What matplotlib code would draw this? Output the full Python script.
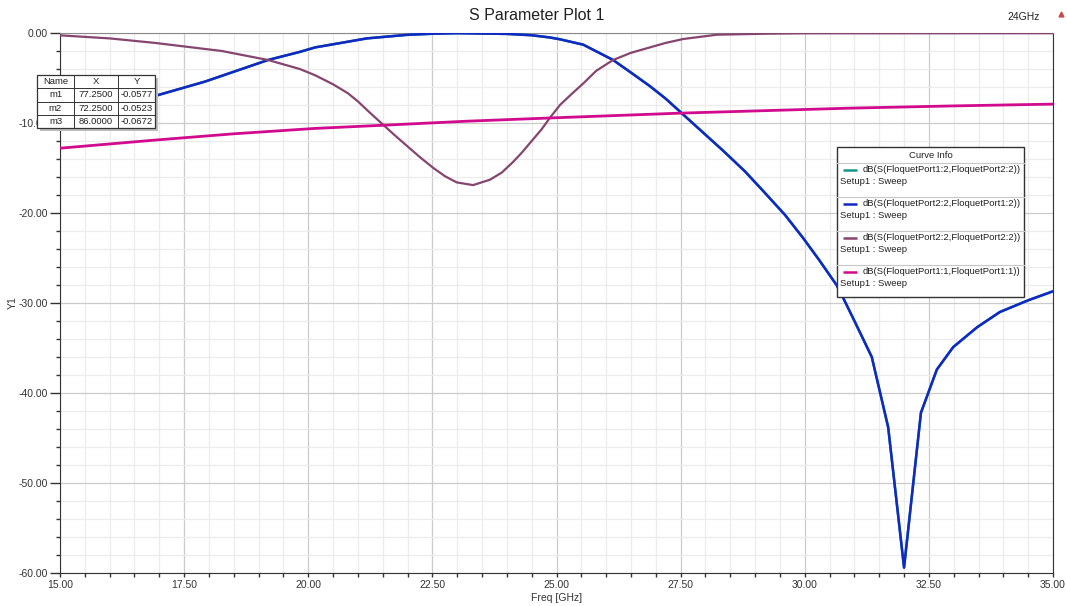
import matplotlib
matplotlib.use("Agg")
import matplotlib.pyplot as plt
from matplotlib.patches import Rectangle
from matplotlib.ticker import MultipleLocator, FormatStrFormatter

plt.rcParams["font.family"] = ["Liberation Sans", "DejaVu Sans"]

# ---------------------------------------------------------------------------
# Sweep results (dB vs GHz)
# ---------------------------------------------------------------------------

# transmission, S(2:2,1:2) -- S(1:2,2:2) sits exactly underneath it
freq_s21 = [15.0, 16.0, 16.91, 17.92, 19.19, 19.83, 20.14, 21.18, 22.0, 22.51,
            23.0, 24.0, 24.5, 24.87, 25.07, 25.54, 26.14, 26.5, 26.88, 27.2,
            27.52, 27.9, 28.36, 28.8, 29.17, 29.6, 29.97, 30.3, 30.64, 30.78,
            31.01, 31.35, 31.68, 32.0, 32.34, 32.66, 32.99, 33.47, 33.93, 34.5,
            35.0]
s21_db = [-10.4, -8.6, -7.0, -5.4, -3.0, -2.1, -1.6, -0.6, -0.2, -0.08,
          -0.02, -0.1, -0.25, -0.5, -0.7, -1.3, -3.0, -4.4, -5.9, -7.3,
          -8.9, -10.8, -13.1, -15.4, -17.6, -20.2, -22.8, -25.3, -28.0, -29.5,
          -32.1, -36.0, -43.8, -59.4, -42.2, -37.4, -34.9, -32.7, -31.0, -29.7,
          -28.7]

# reflection at port 2, S(2:2,2:2)
freq_s22 = [15.0, 16.0, 16.91, 18.26, 19.19, 19.83, 20.14, 20.5, 20.8, 21.0,
            21.25, 21.51, 21.75, 22.0, 22.25, 22.52, 22.75, 22.99, 23.32, 23.66,
            23.9, 24.13, 24.3, 24.5, 24.7, 24.87, 25.07, 25.3, 25.54, 25.8,
            26.14, 26.5, 26.88, 27.2, 27.55, 28.23, 29.23, 30.0, 35.0]
s22_db = [-0.26, -0.6, -1.1, -2.0, -3.0, -4.0, -4.7, -5.7, -6.7, -7.6,
          -8.9, -10.2, -11.4, -12.6, -13.8, -15.0, -15.9, -16.6, -16.9, -16.3,
          -15.5, -14.3, -13.3, -12.0, -10.7, -9.4, -8.0, -6.8, -5.6, -4.2,
          -3.0, -2.2, -1.6, -1.1, -0.67, -0.19, -0.08, -0.03, -0.02]

# reflection at port 1, S(1:1,1:1)
freq_s11 = [15.0, 16.91, 18.5, 20.14, 21.51, 23.19, 25.07, 27.52, 30.91, 33.0, 35.0]
s11_db = [-12.8, -11.9, -11.2, -10.6, -10.25, -9.8, -9.4, -8.9, -8.35, -8.1, -7.9]

# marker table
marker_names = ["m1", "m2", "m3"]
marker_x = [77.25, 72.25, 86.0]
marker_y = [-0.0577, -0.0523, -0.0672]

curve_labels = ["dB(S(FloquetPort1:2,FloquetPort2:2))",
                "dB(S(FloquetPort2:2,FloquetPort1:2))",
                "dB(S(FloquetPort2:2,FloquetPort2:2))",
                "dB(S(FloquetPort1:1,FloquetPort1:1))"]
curve_colors = ["#14968a", "#1228c4", "#86456f", "#d10a8e"]

# ---------------------------------------------------------------------------
# Figure
# ---------------------------------------------------------------------------
W, H = 1067, 606
fig = plt.figure(figsize=(W / 100, H / 100), dpi=100)
ax = fig.add_axes([60 / W, 33 / H, (1053 - 60) / W, (573 - 33) / H])

ax.plot(freq_s21, s21_db, color=curve_colors[0], lw=1.8, zorder=3)
ax.plot(freq_s21, s21_db, color=curve_colors[1], lw=1.8, zorder=4)
ax.plot(freq_s22, s22_db, color=curve_colors[2], lw=1.6, zorder=5)
ax.plot(freq_s11, s11_db, color=curve_colors[3], lw=2.0, zorder=6)

ax.set_xlim(15, 35)
ax.set_ylim(-60, 0)
ax.xaxis.set_major_locator(MultipleLocator(2.5))
ax.xaxis.set_minor_locator(MultipleLocator(0.5))
ax.yaxis.set_major_locator(MultipleLocator(10))
ax.yaxis.set_minor_locator(MultipleLocator(2))
ax.xaxis.set_major_formatter(FormatStrFormatter("%.2f"))
ax.yaxis.set_major_formatter(FormatStrFormatter("%.2f"))
ax.grid(which="major", color="#cbcbcb", lw=0.9)
ax.grid(which="minor", color="#ececec", lw=0.9)
ax.set_axisbelow(True)
ax.tick_params(which="both", direction="out", width=1, color="#333333",
               labelsize=7.5, labelcolor="#333333")
ax.tick_params(axis="x", which="both", length=3, pad=2)
ax.tick_params(axis="y", which="major", length=7, pad=1.5)
ax.tick_params(axis="y", which="minor", length=3)
for side in ["left", "bottom", "right"]:
    ax.spines[side].set_color("#333333")
ax.spines["top"].set_color("#8a8a8a")

# overlay in pixel coordinates for titles, marker table and curve info
ov = fig.add_axes([0, 0, 1, 1], zorder=10)
ov.set_xlim(0, W)
ov.set_ylim(H, 0)
ov.axis("off")
ov.patch.set_alpha(0)

ov.text(537, 16, "S Parameter Plot 1", ha="center", va="center",
        fontsize=11.5, color="#222222")
ov.text(1040, 17, "24GHz", ha="right", va="center", fontsize=7.5, color="#222222")
ov.plot([1061], [14], marker="^", ms=3.5, color="#c84a4a", ls="none")
ov.text(13, 303, "Y1", ha="center", va="center", rotation=90,
        fontsize=7.5, color="#333333")
ov.text(557, 598, "Freq [GHz]", ha="center", va="center",
        fontsize=7.5, color="#333333")

# marker table
tx0, ty0, tw, th = 37, 75, 118, 53
col_edges = [37, 74, 118, 155]
row_h = th / 4
ov.add_patch(Rectangle((tx0 + 3, ty0 + 3), tw, th, color="#bdbdbd", lw=0))
ov.add_patch(Rectangle((tx0, ty0), tw, th, facecolor="white",
                       edgecolor="#333333", lw=0.9))
for c in col_edges[1:-1]:
    ov.plot([c, c], [ty0, ty0 + th], color="#333333", lw=0.7)
for r in range(1, 4):
    ov.plot([tx0, tx0 + tw], [ty0 + r * row_h] * 2, color="#333333", lw=0.7)
rows = [["Name", "X", "Y"]]
for n, xv, yv in zip(marker_names, marker_x, marker_y):
    rows.append([n, f"{xv:.4f}", f"{yv:.4f}"])
for r, row in enumerate(rows):
    yc = ty0 + (r + 0.5) * row_h
    for c, val in enumerate(row):
        xc = (col_edges[c] + col_edges[c + 1]) / 2
        ov.text(xc, yc, val, ha="center", va="center", fontsize=6.8, color="#222222")

# curve info box
lx0, ly0, lw_, lh = 837, 147, 187, 150
ov.add_patch(Rectangle((lx0, ly0), lw_, lh, facecolor="white",
                       edgecolor="#333333", lw=1.0))
ov.text(lx0 + lw_ / 2, 155, "Curve Info", ha="center", va="center",
        fontsize=6.8, color="#222222")
ov.plot([lx0, lx0 + lw_], [163, 163], color="#c8c8c8", lw=0.8)
for i, (lab, col) in enumerate(zip(curve_labels, curve_colors)):
    y0 = 170 + 34 * i
    if i > 0:
        ov.plot([lx0, lx0 + lw_], [y0 - 7, y0 - 7], color="#c8c8c8", lw=0.8)
    ov.plot([843, 857], [y0, y0], color=col, lw=1.8, solid_capstyle="butt")
    ov.text(863, y0, lab, ha="left", va="center", fontsize=6.8, color="#222222")
    ov.text(840, y0 + 11, "Setup1 : Sweep", ha="left", va="center",
            fontsize=6.8, color="#222222")

fig.savefig("out.png", dpi=100)
